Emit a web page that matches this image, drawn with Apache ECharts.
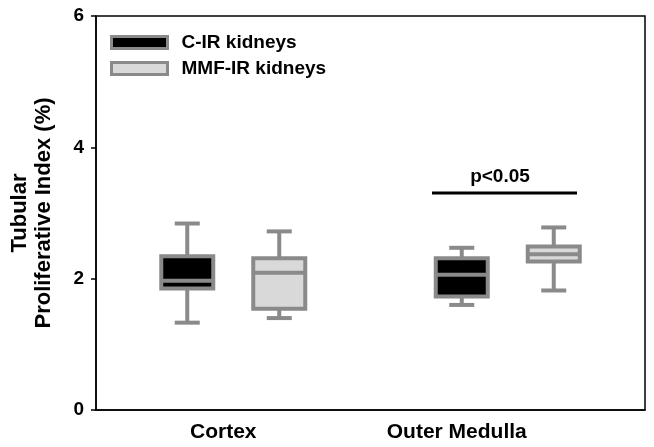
<!DOCTYPE html>
<html>
<head>
<meta charset="utf-8">
<script src="https://cdn.jsdelivr.net/npm/echarts@6/dist/echarts.min.js"></script>
<style>
  html, body { margin: 0; padding: 0; background: #fff; }
  #chart { width: 654px; height: 447px; }
</style>
</head>
<body>
<div id="chart"></div>
<script>
// values: [min, Q1, median, Q3, max]
var categories = ['Cortex', 'Outer Medulla'];
var seriesNames = ['C-IR kidneys', 'MMF-IR kidneys'];
var cirBoxes = [
  [1.33, 1.85, 1.97, 2.34, 2.84],
  [1.60, 1.73, 2.06, 2.31, 2.47]
];
var mmfBoxes = [
  [1.40, 1.54, 2.09, 2.31, 2.72],
  [1.82, 2.26, 2.37, 2.49, 2.78]
];
var yTicks = [0, 2, 4, 6];

var FONT = 'Liberation Sans, Arial, sans-serif';
var EDGE = '#8a8a8a';
var FILLS = ['#000000', '#d9d9d9'];

// boxes drawn through the axes, offset left/right of the category centre
function boxRenderer(shift) {
  return function (params, api) {
    var cat = api.value(0);
    var lo = api.coord([cat, api.value(1)]);
    var q1 = api.coord([cat, api.value(2)]);
    var md = api.coord([cat, api.value(3)]);
    var q3 = api.coord([cat, api.value(4)]);
    var hi = api.coord([cat, api.value(5)]);
    var cx = lo[0] + shift;
    var hw = 26, cap = 12.5;
    var ln = { stroke: EDGE, lineWidth: 4 };
    return {
      type: 'group',
      children: [
        { type: 'line', shape: { x1: cx, y1: hi[1], x2: cx, y2: q3[1] }, style: ln },
        { type: 'line', shape: { x1: cx, y1: lo[1], x2: cx, y2: q1[1] }, style: ln },
        { type: 'line', shape: { x1: cx - cap, y1: hi[1], x2: cx + cap, y2: hi[1] }, style: ln },
        { type: 'line', shape: { x1: cx - cap, y1: lo[1], x2: cx + cap, y2: lo[1] }, style: ln },
        { type: 'rect', shape: { x: cx - hw, y: q3[1], width: hw * 2, height: q1[1] - q3[1] },
          style: { fill: api.visual('color'), stroke: EDGE, lineWidth: 4 } },
        { type: 'line', shape: { x1: cx - hw, y1: md[1], x2: cx + hw, y2: md[1] }, style: ln }
      ]
    };
  };
}

function withIndex(boxes) {
  return boxes.map(function (b, i) { return [i].concat(b); });
}

var xShift = { 'Cortex': 20, 'Outer Medulla': 102 };

var myChar = echarts.init(document.getElementById('chart'));
var myOption = {
  animation: false,
  grid: {
    left: 93, right: 9, top: 16, bottom: 37,
    show: true,
    borderColor: '#000',
    borderWidth: 1.5
  },
  legend: {
    orient: 'vertical',
    left: 110,
    top: 33,
    padding: 0,
    itemWidth: 56,
    itemHeight: 12,
    itemGap: 7,
    icon: 'rect',
    selectedMode: false,
    textStyle: { fontFamily: FONT, fontWeight: 'bold', fontSize: 19, color: '#000', lineHeight: 14, padding: [0, 0, 0, 9] },
    data: [
      { name: seriesNames[0], itemStyle: { color: FILLS[0], borderColor: EDGE, borderWidth: 3 } },
      { name: seriesNames[1], itemStyle: { color: FILLS[1], borderColor: EDGE, borderWidth: 3 } }
    ]
  },
  xAxis: {
    type: 'category',
    data: categories,
    axisLine: { lineStyle: { color: '#000', width: 1.5 } },
    axisTick: { show: false },
    axisLabel: {
      margin: 12,
      formatter: function (v) { return '{t|' + v + '}{p' + (v === 'Cortex' ? 'a' : 'b') + '|}'; },
      rich: {
        t: { fontFamily: FONT, fontWeight: 'bold', fontSize: 21, color: '#000' },
        pa: { width: xShift['Cortex'] },
        pb: { width: xShift['Outer Medulla'] }
      }
    }
  },
  yAxis: {
    type: 'value',
    min: 0,
    max: 6,
    interval: 2,
    name: 'Tubular\nProliferative Index (%)',
    nameLocation: 'middle',
    nameGap: 40,
    nameTextStyle: { fontFamily: FONT, fontWeight: 'bold', fontSize: 22, color: '#000', lineHeight: 24, padding: [0, 0, 0, 0] },
    axisLine: { show: true, lineStyle: { color: '#000', width: 1.5 } },
    axisTick: { show: true, length: 5, lineStyle: { color: '#000', width: 1.5 } },
    splitLine: { show: false },
    axisLabel: {
      fontFamily: FONT, fontWeight: 'bold', fontSize: 19, color: '#000', margin: 12,
      formatter: function (v) { return yTicks.indexOf(v) >= 0 ? String(v) : ''; }
    }
  },
  series: [
    {
      name: seriesNames[0],
      type: 'custom',
      renderItem: boxRenderer(-46),
      encode: { x: 0, y: [1, 2, 3, 4, 5] },
      itemStyle: { color: FILLS[0] },
      data: withIndex(cirBoxes),
      silent: true
    },
    {
      name: seriesNames[1],
      type: 'custom',
      renderItem: boxRenderer(46),
      encode: { x: 0, y: [1, 2, 3, 4, 5] },
      itemStyle: { color: FILLS[1] },
      data: withIndex(mmfBoxes),
      silent: true
    }
  ],
  graphic: [
    { type: 'line', shape: { x1: 432, y1: 193, x2: 577, y2: 193 }, style: { stroke: '#000', lineWidth: 3 } },
    { type: 'text', x: 500, y: 177, style: { text: 'p<0.05', fontFamily: FONT, fontWeight: 'bold', fontSize: 19, fill: '#000', textAlign: 'center', textVerticalAlign: 'middle' } }
  ]
};
myChar.setOption(myOption);
</script>
</body>
</html>
